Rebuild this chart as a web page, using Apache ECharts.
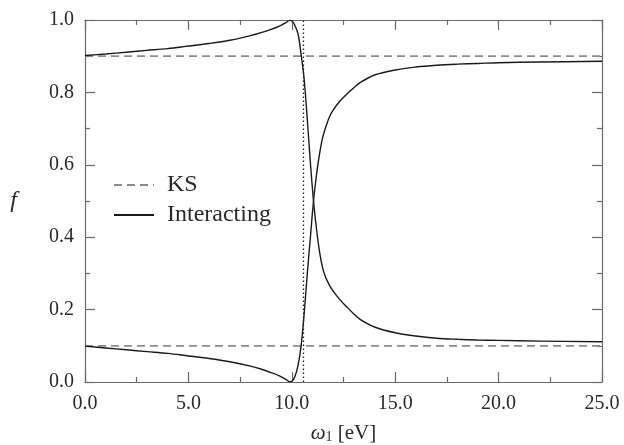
<!DOCTYPE html>
<html>
<head>
<meta charset="utf-8">
<script src="https://cdn.jsdelivr.net/npm/echarts@6/dist/echarts.min.js"></script>
<style>
  html, body { margin: 0; padding: 0; background: #fff; }
  #chart { width: 624px; height: 445px; }
</style>
</head>
<body>
<div id="chart"></div>
<script>
// Occupation numbers f versus the frequency ω1 (eV)
const xTickLabels = ['0.0', '5.0', '10.0', '15.0', '20.0', '25.0'];
const yTickLabels = ['0.0', '0.2', '0.4', '0.6', '0.8', '1.0'];

// Kohn–Sham occupations (constant)
const ksUpper = 0.9;
const ksLower = 0.1;

// Resonance position (dotted vertical marker)
const resonanceX = 10.55;

// Interacting occupations, branch starting near 0.9
const upperX = [0, 1, 2, 3, 4, 5, 6, 7, 8, 8.5, 9, 9.4, 9.7, 9.9, 10.0, 10.15, 10.3, 10.45, 10.6, 10.75, 10.9, 11.05, 11.2, 11.35, 11.5, 11.65, 11.85, 12.0, 12.3, 12.65, 13.0, 13.3, 14, 15, 16, 17, 18, 19, 20, 22, 25];
const upperF = [0.902, 0.906, 0.911, 0.916, 0.921, 0.928, 0.935, 0.944, 0.957, 0.965, 0.974, 0.983, 0.992, 0.999, 0.998, 0.985, 0.962, 0.905, 0.835, 0.725, 0.605, 0.50, 0.42, 0.357, 0.313, 0.287, 0.264, 0.251, 0.229, 0.208, 0.188, 0.173, 0.152, 0.136, 0.127, 0.121, 0.118, 0.116, 0.115, 0.113, 0.111];

// Interacting occupations, branch starting near 0.1
const lowerX = [0, 1, 2, 3, 4, 5, 6, 7, 8, 8.5, 9, 9.4, 9.7, 9.9, 10.0, 10.15, 10.3, 10.45, 10.6, 10.75, 10.9, 11.05, 11.2, 11.35, 11.5, 11.7, 11.85, 12.0, 12.3, 12.65, 13.0, 13.3, 14, 15, 16, 17, 18, 19, 20, 22, 25];
const lowerF = [0.099, 0.094, 0.089, 0.084, 0.079, 0.072, 0.065, 0.056, 0.044, 0.036, 0.026, 0.017, 0.008, 0.001, 0.002, 0.015, 0.045, 0.10, 0.19, 0.30, 0.40, 0.50, 0.575, 0.633, 0.677, 0.714, 0.736, 0.751, 0.774, 0.795, 0.813, 0.827, 0.848, 0.862, 0.870, 0.875, 0.878, 0.880, 0.882, 0.884, 0.886];

const pairs = (xs, ys) => xs.map((x, i) => [x, ys[i]]);

const serif = 'Liberation Serif';
const frameColor = '#6a6a6a';
const textColor = '#2a2a2a';

function axisCommon(extra) {
  return Object.assign({
    type: 'value',
    axisLine: { show: true, onZero: false, lineStyle: { color: frameColor, width: 1.2 } },
    axisTick: { show: true, inside: true, length: 10, lineStyle: { color: frameColor, width: 1.2 } },
    minorTick: { show: true, splitNumber: 2, length: 5, lineStyle: { color: frameColor, width: 1.2 } },
    splitLine: { show: false },
    minorSplitLine: { show: false }
  }, extra);
}

const chart = echarts.init(document.getElementById('chart'), null, { renderer: 'canvas' });

chart.setOption({
  backgroundColor: '#fff',
  animation: false,
  textStyle: { fontFamily: serif },
  grid: { left: 85, right: 22, top: 20, bottom: 63, containLabel: false, outerBoundsMode: 'none' },
  legend: {
    orient: 'vertical',
    left: 108,
    top: 168,
    itemWidth: 40,
    itemHeight: 14,
    itemGap: 6,
    itemStyle: { opacity: 0 },
    data: ['KS', 'Interacting'],
    textStyle: { fontFamily: serif, fontSize: 24, color: textColor, padding: [0, 0, 0, 8] }
  },
  xAxis: [
    axisCommon({
      min: 0, max: 25, interval: 5,
      position: 'bottom',
      name: '{i|ω}{s|1}{n| [eV]}',
      nameLocation: 'middle',
      nameGap: 40,
      nameTextStyle: {
        color: textColor,
        fontFamily: serif,
        rich: {
          i: { fontFamily: serif, fontStyle: 'italic', fontSize: 21, color: textColor },
          s: { fontFamily: serif, fontSize: 14, color: textColor, verticalAlign: 'bottom', padding: [8, 0, 0, 0] },
          n: { fontFamily: serif, fontSize: 21, color: textColor }
        }
      },
      axisLabel: {
        margin: 12,
        fontFamily: serif, fontSize: 20, color: textColor,
        formatter: v => xTickLabels[Math.round(v / 5)]
      }
    }),
    axisCommon({
      min: 0, max: 25, interval: 5,
      position: 'top',
      axisLabel: { show: false }
    })
  ],
  yAxis: [
    axisCommon({
      min: 0, max: 1, interval: 0.2,
      position: 'left',
      name: 'f',
      nameLocation: 'middle',
      nameRotate: 0,
      nameGap: 68,
      nameTextStyle: { fontFamily: serif, fontStyle: 'italic', fontSize: 24, color: textColor },
      axisLabel: {
        margin: 11,
        fontFamily: serif, fontSize: 20, color: textColor,
        formatter: v => yTickLabels[Math.round(v / 0.2)]
      }
    }),
    axisCommon({
      min: 0, max: 1, interval: 0.2,
      position: 'right',
      axisLabel: { show: false }
    })
  ],
  series: [
    {
      name: 'KS',
      type: 'line',
      data: [[0, ksUpper], [25, ksUpper]],
      symbol: 'none',
      lineStyle: { color: '#8c8c8c', width: 1.8, type: [8, 5] },
      itemStyle: { color: '#8c8c8c' },
      silent: true,
      z: 2
    },
    {
      name: 'KS',
      type: 'line',
      data: [[0, ksLower], [25, ksLower]],
      symbol: 'none',
      lineStyle: { color: '#8c8c8c', width: 1.8, type: [8, 5] },
      itemStyle: { color: '#8c8c8c' },
      silent: true,
      z: 2
    },
    {
      name: 'Interacting',
      type: 'line',
      data: pairs(upperX, upperF),
      symbol: 'none',
      smooth: 0.35,
      lineStyle: { color: '#1a1a1a', width: 1.4 },
      itemStyle: { color: '#1a1a1a' },
      silent: true,
      z: 3,
      markLine: {
        silent: true,
        symbol: 'none',
        label: { show: false },
        lineStyle: { color: '#222', width: 1.3, type: [1.5, 2.5] },
        data: [{ xAxis: resonanceX }]
      }
    },
    {
      name: 'Interacting',
      type: 'line',
      data: pairs(lowerX, lowerF),
      symbol: 'none',
      smooth: 0.35,
      lineStyle: { color: '#1a1a1a', width: 1.4 },
      itemStyle: { color: '#1a1a1a' },
      silent: true,
      z: 3
    }
  ]
});
</script>
</body>
</html>
